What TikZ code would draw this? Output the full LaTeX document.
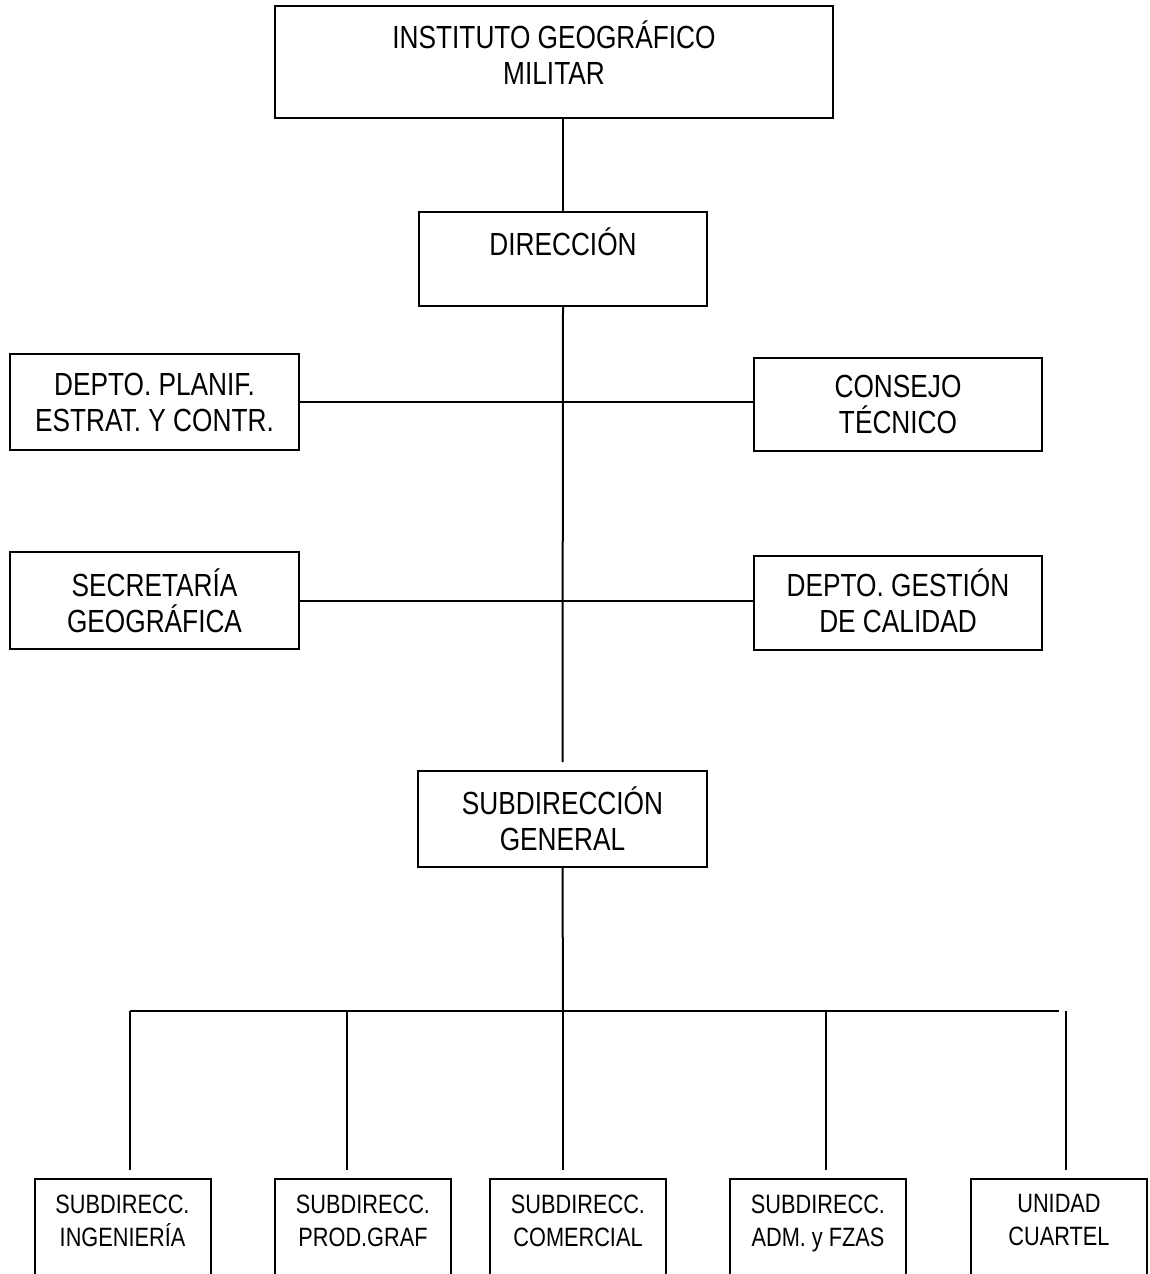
\documentclass[tikz,border=0pt]{standalone}
\usepackage{fontspec}
\setmainfont[FakeStretch=0.82]{Liberation Sans}

\tikzset{
	unit/.style={draw, rectangle, line width=2pt, inner sep=0pt},	% box of one office
	big/.style={font=\fontsize{32}{36}\selectfont, align=center},
	small/.style={font=\fontsize{26.5}{33}\selectfont, align=center},
	link/.style={line width=2pt},
}

\begin{document}
\begin{tikzpicture}[x=1pt, y=-1pt]

	\useasboundingbox (0,0) rectangle (1149,1274);
	\clip (0,0) rectangle (1149,1274);

	\def\bus{1011}			% height of the line above the subdirecciones
	\def\drop{1170}			% where the drops stop, just above the boxes
	
	% upper offices
	\node[unit, minimum width=558pt, minimum height=112pt, label={[big, name=igmt, yshift=9.5pt]center:INSTITUTO GEOGRÁFICO\\MILITAR}] (igm) at (554,62) {};
	\node[unit, minimum width=288pt, minimum height=94pt, label={[big, name=dirt, yshift=17pt]center:DIRECCIÓN}] (dir) at (563,259) {};
	\node[unit, minimum width=289pt, minimum height=96pt, label={[big, name=plant]center:DEPTO. PLANIF.\\ESTRAT. Y CONTR.}] (plan) at (154.5,402) {};
	\node[unit, minimum width=288pt, minimum height=93pt, label={[big, name=const]center:CONSEJO\\TÉCNICO}] (cons) at (898,404.5) {};
	\node[unit, minimum width=289pt, minimum height=97pt, label={[big, name=secrt]center:SECRETARÍA\\GEOGRÁFICA}] (secr) at (154.5,600.5) {};
	\node[unit, minimum width=288pt, minimum height=94pt, label={[big, name=gestt, yshift=2pt]center:DEPTO. GESTIÓN\\DE CALIDAD}] (gest) at (898,603) {};
	\node[unit, minimum width=289pt, minimum height=96pt, label={[big, name=subgt]center:SUBDIRECCIÓN\\GENERAL}] (subg) at (562.5,819) {};
	
	% lower offices (cut by the page)
	\foreach \x/\nm/\ta/\tb in {122.5/ing/SUBDIRECC./INGENIERÍA, 363/prod/SUBDIRECC./PROD.GRAF, 578/com/SUBDIRECC./COMERCIAL, 818/adm/SUBDIRECC./ADM. y FZAS, 1059/cuar/UNIDAD/CUARTEL}{
		\node[unit, minimum width=176pt, minimum height=121pt, label={[small, name=\nm t, yshift=16.5pt]center:\ta\\\tb\vphantom{y}}] (\nm) at (\x,1239.5) {};
	}
	
	% connectors
	\draw[link] (igm.south -| dir.north) -- (dir.north);
	\draw[link] (dir.south) -- ([yshift=8pt]subg.north);
	\draw[link] (plan.east) -- (plan.east -| cons.west);
	\draw[link] (secr.east) -- (secr.east -| gest.west);
	
	\foreach \d/\x in {1/130, 2/347, 3/563, 4/826, 5/1066}{
		\coordinate (d\d) at (\x,\bus);
		\coordinate (e\d) at (\x,\drop);
		\draw[link] (d\d) -- (e\d);
	}
	\coordinate (busend) at (1059,\bus);
	\draw[link] (subg.south) -- (d3);
	\draw[link] (d1) -- (busend);
	
\end{tikzpicture}
\end{document}
